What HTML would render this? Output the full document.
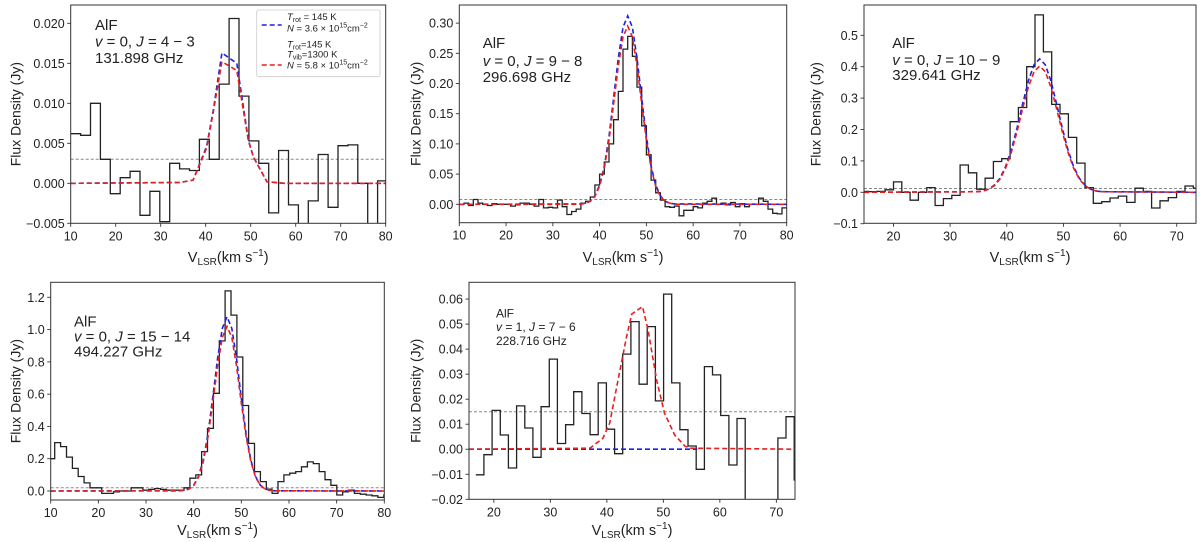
<!DOCTYPE html>
<html><head><meta charset="utf-8">
<style>
html,body{margin:0;padding:0;background:#fff;}
svg{display:block;font-family:"Liberation Sans","DejaVu Sans",sans-serif;}
</style></head>
<body>
<svg id="fig" width="1200" height="542" viewBox="0 0 1200 542" xmlns="http://www.w3.org/2000/svg"></svg>
<script>
// ---------- Panel 1: v=0 J=4-3 ----------
const p1BinStart = 10.0, p1BinWidth = 2.2;
const p1Values = [0.0062,0.0060,0.0100,0.0030,-0.0013,0.0007,0.0015,-0.0040,-0.0010,-0.0048,0.0025,0.0018,0.0016,0.0055,0.0030,0.0124,0.0206,0.0109,0.0053,0.0025,-0.0037,0.0041,-0.0027,-0.0070,-0.0022,0.0036,-0.0030,0.0047,0.0048,0.0000,-0.0070,0.0003];
const p1ModelVel = [10,34.3,37.2,40.2,41.7,43.6,46.9,49.5,50.6,53.6,57.4,80];
const p1Blue = [0,0.0001,0.0004,0.0046,0.0092,0.0163,0.0150,0.0054,0.0033,0.0002,0,0];
const p1Red  = [0,0.0001,0.0004,0.0044,0.0090,0.0152,0.0141,0.0053,0.0033,0.0002,0,0];
const p1YTicks = [-0.005,0,0.005,0.010,0.015,0.020];
const p1YTickLabels = ["\u22120.005","0.000","0.005","0.010","0.015","0.020"];
const p1Rms = 0.003;

// ---------- Panel 2: v=0 J=9-8 ----------
const p2BinStart = 10.0, p2BinWidth = 1.0;
const p2Values = [0.0,0.002,-0.002,0.008,0.002,0.0,-0.002,0.001,0.0,0.0,0.0,-0.003,-0.001,0.002,0.002,0.0,-0.003,0.008,-0.006,-0.005,-0.006,0.007,-0.004,-0.017,-0.012,-0.008,0.002,0.005,0.012,0.032,0.05,0.07,0.10,0.14,0.187,0.257,0.278,0.245,0.194,0.13,0.082,0.04,0.019,0.007,-0.004,-0.005,-0.003,-0.019,-0.01,-0.01,-0.004,-0.006,0.002,0.005,0.01,0.0,0.002,-0.001,0.003,-0.004,0.001,-0.004,0.0,0.0,0.01,0.005,-0.008,-0.015,-0.016,-0.006];
const p2ModelVel = [10,36,37,38,39,40,41,42,43,44,45,46,47,48,49,50,51,52,53,54,55,56,80];
const p2Blue = [0,0.0006,0.002,0.005,0.014,0.032,0.063,0.112,0.176,0.242,0.293,0.312,0.293,0.242,0.176,0.112,0.063,0.032,0.014,0.005,0.002,0.0006,0];
const p2Red  = [0,0,0.002,0.005,0.013,0.030,0.060,0.106,0.166,0.229,0.277,0.295,0.277,0.229,0.166,0.106,0.060,0.030,0.013,0.005,0.002,0,0];
const p2YTicks = [0,0.05,0.10,0.15,0.20,0.25,0.30];
const p2YTickLabels = ["0.00","0.05","0.10","0.15","0.20","0.25","0.30"];
const p2Rms = 0.008;

// ---------- Panel 3: v=0 J=10-9 ----------
const p3BinStart = 14.12, p3BinWidth = 1.47;
const p3Values = [0.003,0.002,0.003,0.008,0.033,0.0,-0.025,0.0,0.015,-0.042,-0.02,-0.01,0.087,0.062,0.01,0.045,0.098,0.107,0.225,0.27,0.40,0.565,0.447,0.28,0.25,0.175,0.093,0.015,-0.035,-0.03,-0.018,-0.012,-0.032,0.013,0.003,-0.05,-0.027,-0.017,0.003,0.02,0.013];
const p3ModelVel = [14.8,34.8,35.8,36.8,37.8,38.8,39.8,40.8,41.8,42.8,43.8,44.8,45.8,46.8,47.8,48.8,49.8,50.8,51.8,52.8,53.8,54.8,55.8,56.8,73.4];
const p3Blue = [0,0.002,0.004,0.010,0.023,0.045,0.082,0.135,0.204,0.281,0.354,0.406,0.425,0.406,0.354,0.281,0.204,0.135,0.082,0.045,0.023,0.010,0.004,0.002,0];
const p3Red  = [0,0.002,0.004,0.010,0.021,0.042,0.077,0.127,0.193,0.266,0.334,0.384,0.402,0.384,0.334,0.266,0.193,0.127,0.077,0.042,0.021,0.010,0.004,0.002,0];
const p3YTicks = [-0.1,0,0.1,0.2,0.3,0.4,0.5];
const p3YTickLabels = ["\u22120.1","0.0","0.1","0.2","0.3","0.4","0.5"];
const p3Rms = 0.012;

// ---------- Panel 4: v=0 J=15-14 ----------
const p4BinStart = 8.38, p4BinWidth = 1.233;
const p4Values = [0.2,0.2,0.3,0.275,0.21,0.14,0.09,0.05,0.02,0.02,-0.015,-0.015,-0.005,0.0,0.0,0.02,0.02,0.005,0.01,0.015,0.01,0.005,0.005,0.005,0.02,0.079,0.1,0.244,0.388,0.605,0.93,1.24,1.09,0.83,0.53,0.295,0.12,0.058,0.012,-0.015,0.058,0.1,0.11,0.12,0.15,0.18,0.17,0.12,0.07,0.035,-0.025,-0.005,0.005,-0.015,-0.02,-0.025,-0.03,-0.04,-0.025];
const p4ModelVel = [10,37,38,39,40,41,42,43,44,45,46,47,48,49,50,51,52,53,54,55,56,57,80];
const p4Blue = [0,0.001,0.004,0.013,0.036,0.089,0.190,0.354,0.577,0.818,1.008,1.08,1.008,0.818,0.577,0.354,0.190,0.089,0.036,0.013,0.004,0.001,0];
const p4Red  = [0,0.001,0.004,0.012,0.034,0.084,0.180,0.335,0.545,0.772,0.952,1.02,0.952,0.772,0.545,0.335,0.180,0.084,0.034,0.012,0.004,0.001,0];
const p4YTicks = [0,0.2,0.4,0.6,0.8,1.0,1.2];
const p4YTickLabels = ["0.0","0.2","0.4","0.6","0.8","1.0","1.2"];
const p4Rms = 0.02;

// ---------- Panel 5: v=1 J=7-6 ----------
const p5BinStart = 16.8, p5BinWidth = 1.445;
const p5Values = [-0.0102,-0.0022,0.0155,0.0057,-0.0075,0.0173,0.0085,-0.0032,0.017,0.036,0.0023,0.0098,0.023,0.0143,0.0058,0.0265,0.008,-0.0018,0.038,0.051,0.026,0.049,0.0193,0.062,0.0265,0.0078,0.0013,-0.008,0.033,0.0297,0.0135,-0.0063,0.0123,-0.04,-0.035,-0.03,-0.045,0.0045,0.013,-0.0123];
const p5BlueVel = [15.6,56];
const p5Blue = [0,0];
const p5RedVel = [15.6,37.0,39.3,40.5,42.0,43.5,44.4,46.3,47.3,48.8,50.2,52.0,53.8,54.7,73.3];
const p5Red = [0,0.0004,0.0044,0.0104,0.028,0.045,0.054,0.057,0.0476,0.0277,0.0144,0.0057,0.0013,0.0004,0];
const p5YTicks = [-0.02,-0.01,0,0.01,0.02,0.03,0.04,0.05,0.06];
const p5YTickLabels = ["\u22120.02","\u22120.01","0.00","0.01","0.02","0.03","0.04","0.05","0.06"];
const p5Rms = 0.015;

const xTicksWide = [10,20,30,40,50,60,70,80];
const xTicksNarrow = [20,30,40,50,60,70];

const NS = "http://www.w3.org/2000/svg";
const fig = document.getElementById("fig");
function mk(tag, attrs, parent){
  const e = document.createElementNS(NS, tag);
  for (const k in attrs) e.setAttribute(k, attrs[k]);
  (parent||fig).appendChild(e);
  return e;
}

function drawPanel(n, g, bins, modelB, modelR, yt, ytl, xt, rms, ann){
  const grp = mk("g", {});
  
  
  const sx = v => g.L + (v - g.xmin) / (g.xmax - g.xmin) * (g.R - g.L);
  const sy = v => g.B - (v - g.ymin) / (g.ymax - g.ymin) * (g.B - g.T);
  const cp = mk("clipPath", {id: "clip" + n}, grp);
  mk("rect", {x: g.L, y: g.T, width: g.R - g.L, height: g.B - g.T}, cp);
  const plot = mk("g", {"clip-path": "url(#clip" + n + ")"}, grp);

  // rms line
  const rl = mk("line", {x1: g.L, x2: g.R, y1: sy(rms), y2: sy(rms), stroke: "#888", "stroke-width": 1, "stroke-dasharray": "3,2"}, plot);
  
  

  // histogram
  let d = "";
  bins.vals.forEach((v, i) => {
    const x0 = sx(bins.start + i * bins.w), x1 = sx(bins.start + (i + 1) * bins.w);
    d += (i === 0 ? "M" + x0.toFixed(1) + " " + sy(v).toFixed(1) : "V" + sy(v).toFixed(1)) + " H" + x1.toFixed(1) + " ";
  });
  const h = mk("path", {d: d, fill: "none", stroke: "#222", "stroke-width": 1.3}, plot);
  
  

  const line = (vel, vals, col, name) => {
    const pts = vel.map((v, i) => sx(v).toFixed(1) + "," + sy(vals[i]).toFixed(1)).join(" ");
    const pl = mk("polyline", {points: pts, fill: "none", stroke: col, "stroke-width": 1.6, "stroke-dasharray": "5,3"}, plot);
    
    
  };
  line(modelB.vel, modelB.vals, "#1f1fe6", "lte-model-blue");
  line(modelR.vel, modelR.vals, "#e61f1f", "non-lte-model-red");

  // frame
  const fr = mk("rect", {x: g.L, y: g.T, width: g.R - g.L, height: g.B - g.T, fill: "none", stroke: "#333", "stroke-width": 1}, grp);
  
  

  // y ticks
  yt.forEach((v, i) => {
    const y = sy(v);
    mk("line", {x1: g.L - 3.5, x2: g.L, y1: y, y2: y, stroke: "#333", "stroke-width": 0.9}, grp);
    const t = mk("text", {x: g.L - 6, y: y + 4.5, "text-anchor": "end", "font-size": 12.5, fill: "#222"}, grp);
    t.textContent = ytl[i];
    
    
  });
  // x ticks
  xt.forEach(v => {
    const x = sx(v);
    mk("line", {x1: x, x2: x, y1: g.B, y2: g.B + 3.5, stroke: "#333", "stroke-width": 0.9}, grp);
    const t = mk("text", {x: x, y: g.B + 17, "text-anchor": "middle", "font-size": 12.5, fill: "#222"}, grp);
    t.textContent = String(v);
    
    
  });

  // y label
  const cy = (g.T + g.B) / 2;
  const yl = mk("text", {x: g.ylx, y: cy, "text-anchor": "middle", "font-size": 14, fill: "#222", transform: "rotate(-90 " + g.ylx + " " + cy + ")", "dominant-baseline": "middle"}, grp);
  yl.textContent = "Flux Density (Jy)";
  
  

  // x label
  const xl = mk("text", {x: (g.L + g.R) / 2, y: g.xly, "text-anchor": "middle", "font-size": 14.5, fill: "#222"}, grp);
  xl.innerHTML = 'V<tspan font-size="10" dy="3">LSR</tspan><tspan dy="-3">(km s</tspan><tspan font-size="10" dy="-6">\u22121</tspan><tspan dy="6">)</tspan>';
  
  

  // annotation
  const a1 = mk("text", {x: ann.x, y: ann.y[0], "font-size": ann.fs, fill: "#222"}, grp);
  a1.textContent = "AlF";
  
  
  const a2 = mk("text", {x: ann.x, y: ann.y[1], "font-size": ann.fs, fill: "#222"}, grp);
  a2.innerHTML = '<tspan font-style="italic">v</tspan> = ' + ann.v + ', <tspan font-style="italic">J</tspan> = ' + ann.j;
  
  
  const a3 = mk("text", {x: ann.x, y: ann.y[2], "font-size": ann.fs, fill: "#222"}, grp);
  a3.textContent = ann.f;
  
  
}

drawPanel(1, {L:70.7,R:385.7,T:5,B:223.3,xmin:10,xmax:80,ymin:-0.005,ymax:0.02229,ylx:17,xly:262},
  {start:p1BinStart,w:p1BinWidth,vals:p1Values},{vel:p1ModelVel,vals:p1Blue},{vel:p1ModelVel,vals:p1Red},
  p1YTicks,p1YTickLabels,xTicksWide,p1Rms,{x:95,y:[30,46.5,63],fs:15,v:"0",j:"4 \u2212 3",f:"131.898 GHz"});
drawPanel(2, {L:459.3,R:786.7,T:5,B:222.7,xmin:10,xmax:80,ymin:-0.0305,ymax:0.330,ylx:417,xly:262},
  {start:p2BinStart,w:p2BinWidth,vals:p2Values},{vel:p2ModelVel,vals:p2Blue},{vel:p2ModelVel,vals:p2Red},
  p2YTicks,p2YTickLabels,xTicksWide,p2Rms,{x:482.7,y:[48,66,82],fs:15,v:"0",j:"9 \u2212 8",f:"296.698 GHz"});
drawPanel(3, {L:864,R:1196,T:5,B:223.3,xmin:14.8,xmax:73.4,ymin:-0.0987,ymax:0.5965,ylx:817,xly:262},
  {start:p3BinStart,w:p3BinWidth,vals:p3Values},{vel:p3ModelVel,vals:p3Blue},{vel:p3ModelVel,vals:p3Red},
  p3YTicks,p3YTickLabels,xTicksNarrow,p3Rms,{x:892.3,y:[48,65,80],fs:15,v:"0",j:"10 \u2212 9",f:"329.641 GHz"});
drawPanel(4, {L:50.7,R:384.3,T:282.3,B:500,xmin:10,xmax:80,ymin:-0.0558,ymax:1.293,ylx:17,xly:535},
  {start:p4BinStart,w:p4BinWidth,vals:p4Values},{vel:p4ModelVel,vals:p4Blue},{vel:p4ModelVel,vals:p4Red},
  p4YTicks,p4YTickLabels,xTicksWide,p4Rms,{x:74,y:[326.5,341.5,356.5],fs:15,v:"0",j:"15 \u2212 14",f:"494.227 GHz"});
drawPanel(5, {L:469,R:795,T:282.3,B:499.3,xmin:15.6,xmax:73.3,ymin:-0.02,ymax:0.0667,ylx:417,xly:535},
  {start:p5BinStart,w:p5BinWidth,vals:p5Values},{vel:p5BlueVel,vals:p5Blue},{vel:p5RedVel,vals:p5Red},
  p5YTicks,p5YTickLabels,xTicksNarrow,p5Rms,{x:496,y:[317.5,331,345],fs:12,v:"1",j:"7 \u2212 6",f:"228.716 GHz"});

// legend (panel 1)
const lg = mk("g", {});


mk("rect", {x:256.7,y:10,width:123.3,height:66.7,fill:"#fff",stroke:"#ccc","stroke-width":0.8,rx:2}, lg);
const le1 = mk("line", {x1:261.7,x2:281.7,y1:25,y2:25,stroke:"#1f1fe6","stroke-width":1.6,"stroke-dasharray":"5,3"}, lg);


const le2 = mk("line", {x1:261.7,x2:281.7,y1:65,y2:65,stroke:"#e61f1f","stroke-width":1.6,"stroke-dasharray":"5,3"}, lg);


const legTexts = [
  [20, '<tspan font-style="italic">T</tspan><tspan font-size="7" dy="2">rot</tspan><tspan dy="-2"> = 145 K</tspan>'],
  [31.5, '<tspan font-style="italic">N</tspan> = 3.6 \u00d7 10<tspan font-size="7" dy="-4">15</tspan><tspan dy="4">cm</tspan><tspan font-size="7" dy="-4">\u22122</tspan>'],
  [47.5, '<tspan font-style="italic">T</tspan><tspan font-size="7" dy="2">rot</tspan><tspan dy="-2">=145 K</tspan>'],
  [57.5, '<tspan font-style="italic">T</tspan><tspan font-size="7" dy="2">vib</tspan><tspan dy="-2">=1300 K</tspan>'],
  [68.5, '<tspan font-style="italic">N</tspan> = 5.8 \u00d7 10<tspan font-size="7" dy="-4">15</tspan><tspan dy="4">cm</tspan><tspan font-size="7" dy="-4">\u22122</tspan>']
];
legTexts.forEach(t => {
  const e = mk("text", {x:287, y:t[0], "font-size":9.5, fill:"#222"}, lg);
  e.innerHTML = t[1];
  
  
});
</script>
</body></html>
